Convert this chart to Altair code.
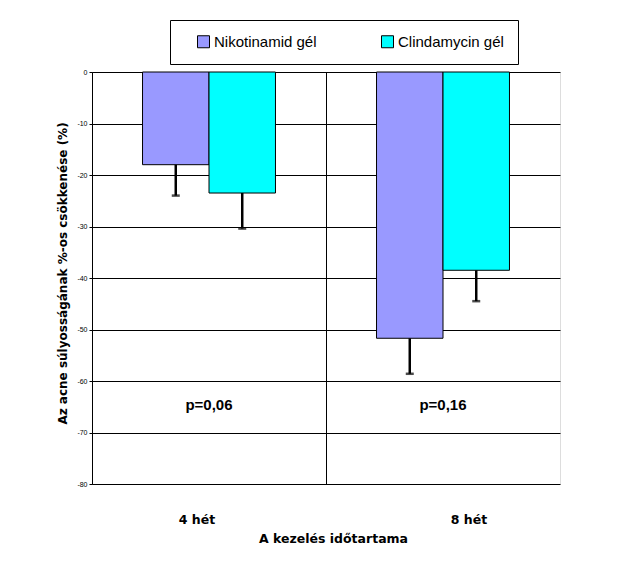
import altair as alt
import pandas as pd

weeks = ["4 hét", "4 hét", "8 hét", "8 hét"]
series = ["Nikotinamid gél", "Clindamycin gél", "Nikotinamid gél", "Clindamycin gél"]
values = [-18.0, -23.5, -51.7, -38.5]
err_low = [-24.0, -30.4, -58.6, -44.5]

p_weeks = ["4 hét", "8 hét"]
p_labels = ["p=0,06", "p=0,16"]
p_pos = [-64.6, -64.6]

series_order = ["Nikotinamid gél", "Clindamycin gél"]
colors = ["#9999FF", "#00FFFF"]
y_ticks = [0, -10, -20, -30, -40, -50, -60, -70, -80]

df = pd.DataFrame({"week": weeks, "series": series, "value": values, "err": err_low})
pdf = pd.DataFrame({"week": p_weeks, "label": p_labels, "pos": p_pos})

FONT = "Liberation Sans"
TFONT = "DejaVu Sans"

x_enc = alt.X("week:N", sort=p_weeks,
              scale=alt.Scale(paddingInner=0, paddingOuter=0),
              axis=alt.Axis(title="A kezelés időtartama", labelAngle=0, grid=True,
                            bandPosition=0, gridColor="black", gridWidth=1,
                            domain=False, ticks=False, labelPadding=29,
                            labelOffset={"condition": {"test": "datum.value == '4 hét'", "value": -12}, "value": 26},
                            labelFontSize=12.5, labelFontWeight="bold", labelColor="black",
                            titleFontSize=12.5, titleFontWeight="bold", titlePadding=7,
                            titleColor="black", labelFont=TFONT, titleFont=TFONT,
                            titleX=241))
xo_enc = alt.XOffset("series:N", sort=series_order,
                     scale=alt.Scale(paddingInner=0, paddingOuter=0.76))
y_enc = alt.Y("value:Q",
              scale=alt.Scale(domain=[-80, 0], nice=False, zero=False),
              axis=alt.Axis(title="Az acne súlyosságának %-os csökkenése (%)",
                            values=y_ticks, labelExpr="'' + datum.value",
                            grid=True, gridColor="black", gridWidth=1,
                            domainColor="black", tickColor="black", tickSize=3,
                            labelFontSize=7, labelColor="black", labelFont=FONT,
                            titleFontSize=12, titleFontWeight="bold", titleColor="black",
                            titleFont=TFONT, titleX=-30, titleY=201, titleAngle=-90,
                            titleBaseline="middle", titleAlign="center"))

bars = alt.Chart(df).mark_bar(stroke="black", strokeWidth=1).encode(
    x=x_enc, xOffset=xo_enc, y=y_enc,
    color=alt.Color("series:N", sort=series_order,
                    scale=alt.Scale(domain=series_order, range=colors),
                    legend=alt.Legend(title=None, orient="none", legendX=78, legendY=-52,
                                      direction="horizontal", columns=2,
                                      symbolType="square", symbolSize=144,
                                      symbolStrokeColor="black", symbolStrokeWidth=1,
                                      labelFontSize=15, labelFont=FONT, labelColor="black",
                                      strokeColor="black", padding=14, symbolOffset=12,
                                      columnPadding=51, labelOffset=3))
)

rules = alt.Chart(df).mark_rule(color="black", strokeWidth=2.5).encode(
    x=alt.X("week:N", sort=p_weeks), xOffset=alt.XOffset("series:N", sort=series_order),
    y="value:Q", y2="err:Q")

caps = alt.Chart(df).mark_tick(color="black", thickness=2.5, size=8, orient="horizontal").encode(
    x=alt.X("week:N", sort=p_weeks), xOffset=alt.XOffset("series:N", sort=series_order),
    y="err:Q")

ptext = alt.Chart(pdf).mark_text(fontSize=15, fontWeight="bold", font=FONT, color="black",
                                 baseline="middle").encode(
    x=alt.X("week:N", sort=p_weeks), y=alt.Y("pos:Q"), text="label:N")

chart = alt.layer(bars, rules, caps, ptext).properties(
    width=468, height=412,
    autosize=alt.AutoSizeParams(type="none"),
    padding={"left": 84, "top": 64, "right": 51, "bottom": 83},
).configure_view(stroke="black", strokeWidth=1).configure(background="white")

chart.save("out.html", embed_options={"renderer": "svg", "actions": False})
